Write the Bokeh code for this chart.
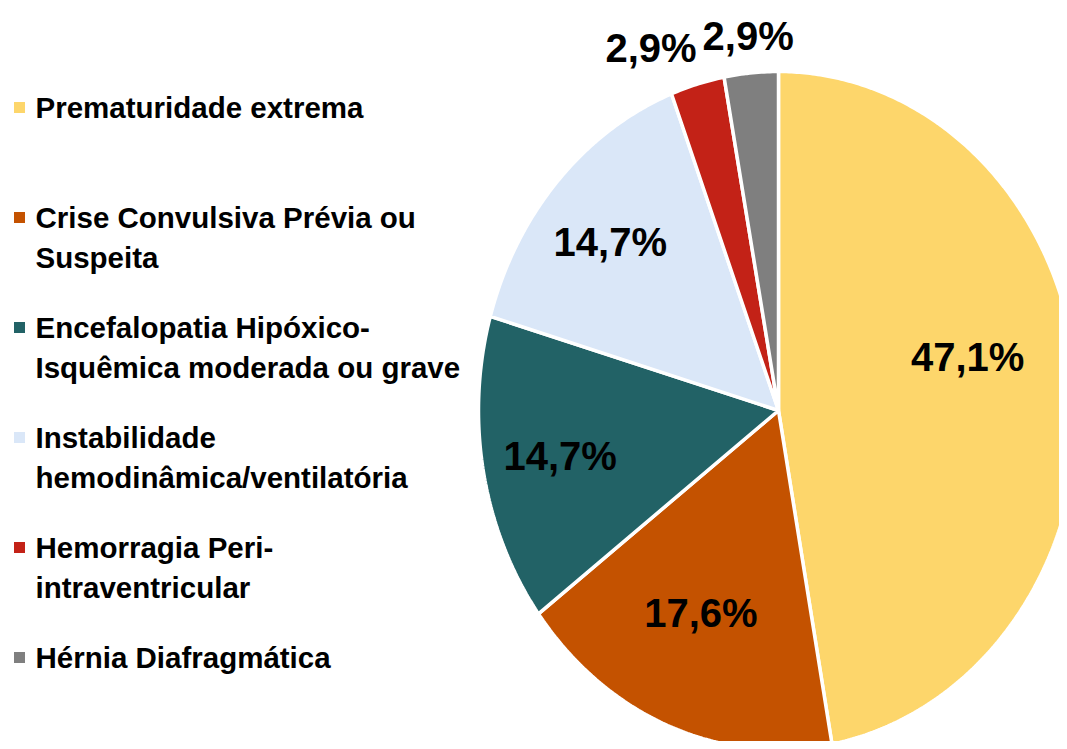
import numpy as np
from bokeh.plotting import figure
from bokeh.models import Range1d
from bokeh.core.properties import value
from bokeh.embed import file_html
from bokeh.resources import INLINE

# ---- data ----
categories = [
    "Prematuridade extrema",
    "Crise Convulsiva Prévia ou\nSuspeita",
    "Encefalopatia Hipóxico-\nIsquêmica moderada ou grave",
    "Instabilidade\nhemodinâmica/ventilatória",
    "Hemorragia Peri-\nintraventricular",
    "Hérnia Diafragmática",
]
values = [47.1, 17.6, 14.7, 14.7, 2.9, 2.9]
pct_labels = ["47,1%", "17,6%", "14,7%", "14,7%", "2,9%", "2,9%"]
colors = ["#FDD66B", "#C45200", "#226266", "#DAE7F8", "#C32217", "#7F7F7F"]

# ---- layout (styling, not data) ----
W, H = 1059, 741
cx, cy = 778, 410          # pie centre (plot px, y downward)
rx, ry = 300, 339          # elliptical radii
label_r = [0.65, 0.65, 0.74, 0.75, 1.15, 1.11]
label_shift_deg = [-9, 2, 0, -1, -6, 0]
leg_x_marker, leg_x_text = 19, 35
leg_y0, leg_step, leg_line = 107, 110, 40
FONT = value("Liberation Sans")

p = figure(width=W, height=H, x_range=Range1d(0, W), y_range=Range1d(H, 0),
           output_backend="svg", toolbar_location=None,
           x_axis_type=None, y_axis_type=None, min_border=0)
p.grid.visible = False
p.outline_line_color = None
p.background_fill_color = "white"
p.border_fill_color = "white"

total = float(sum(values))
fr = np.array(values) / total
starts = np.concatenate([[0], np.cumsum(fr)[:-1]]) * 360.0
ends = np.cumsum(fr) * 360.0

xs, ys = [], []
lx, ly = [], []
for i, (a0, a1) in enumerate(zip(starts, ends)):
    th = np.radians(np.linspace(a0, a1, max(int((a1 - a0) * 2), 4)))
    px = np.concatenate([[cx], cx + rx * np.sin(th), [cx]])
    py = np.concatenate([[cy], cy - ry * np.cos(th), [cy]])
    xs.append(list(px))
    ys.append(list(py))
    mid = np.radians((a0 + a1) / 2 + label_shift_deg[i])
    lx.append(cx + rx * label_r[i] * np.sin(mid))
    ly.append(cy - ry * label_r[i] * np.cos(mid))

p.patches(xs=xs, ys=ys, fill_color=colors, line_color="white", line_width=3.5)

p.text(x=lx, y=ly, text=pct_labels, text_font=FONT, text_font_style="bold",
       text_font_size="40px", text_align="center", text_baseline="middle",
       text_color="black")

# legend
mx, my, tx, ty, tt = [], [], [], [], []
for i, cat in enumerate(categories):
    y0 = leg_y0 + i * leg_step
    mx.append(leg_x_marker)
    my.append(y0)
    for j, line in enumerate(cat.split("\n")):
        tx.append(leg_x_text)
        ty.append(y0 + j * leg_line)
        tt.append(line)

p.scatter(x=mx, y=my, marker="square", size=11, fill_color=colors, line_color=None)
p.text(x=tx, y=ty, text=tt, text_font=FONT, text_font_style="bold",
       text_font_size="29.5px", text_align="left", text_baseline="middle",
       text_color="black")

open("out.html", "w").write(file_html(p, INLINE))
